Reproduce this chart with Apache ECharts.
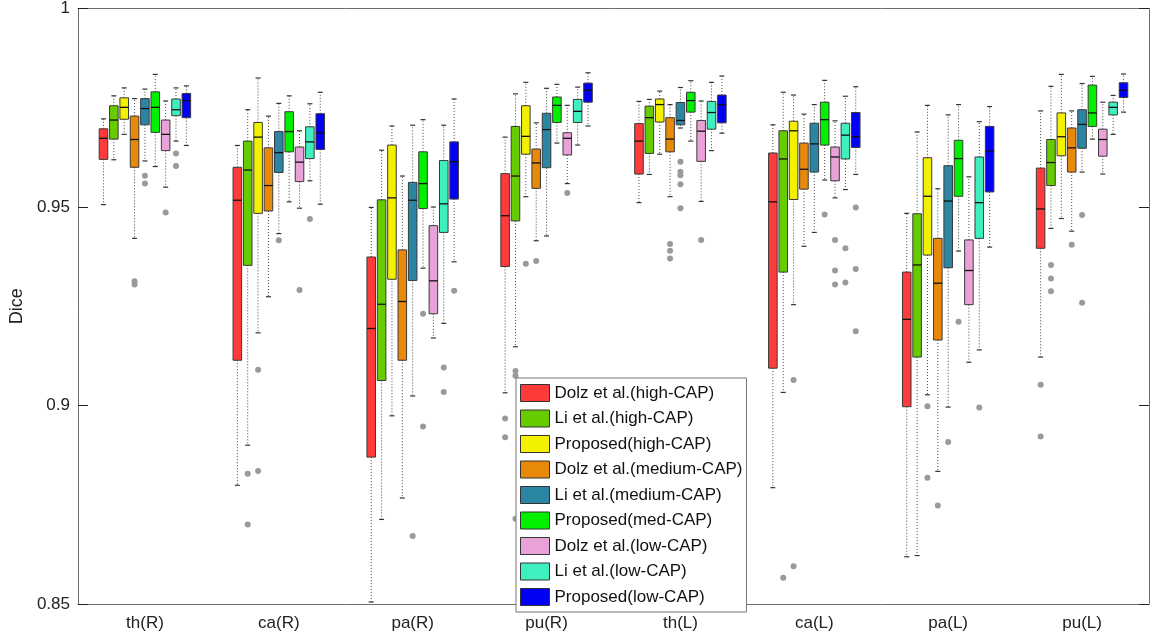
<!DOCTYPE html>
<html><head><meta charset="utf-8">
<script src="https://cdn.jsdelivr.net/npm/echarts@6/dist/echarts.min.js"></script>
<style>html,body{margin:0;padding:0;background:#fff}#c{width:1152px;height:638px}</style>
</head><body><div id="c"></div>
<script>
const categories = ['th(R)','ca(R)','pa(R)','pu(R)','th(L)','ca(L)','pa(L)','pu(L)'];
const methodNames = ['Dolz et al.(high-CAP)','Li et al.(high-CAP)','Proposed(high-CAP)','Dolz et al.(medium-CAP)','Li et al.(medium-CAP)','Proposed(med-CAP)','Dolz et al.(low-CAP)','Li et al.(low-CAP)','Proposed(low-CAP)'];
const methodColors = ['#FF3A3A','#66CC00','#F2F200','#E8890A','#2B86A3','#00F000','#E8A2D8','#3FEFC0','#0000F5'];

// boxes per organ: [lower whisker, q1, median, q3, upper whisker]
const dolzHigh = [[0.9506,0.9620,0.9673,0.9697,0.9722],[0.8799,0.9114,0.9517,0.9600,0.9655],[0.8505,0.8870,0.9194,0.9374,0.9499],[0.9032,0.9350,0.9478,0.9584,0.9676],[0.9511,0.9583,0.9666,0.9710,0.9766],[0.8793,0.9094,0.9513,0.9636,0.9707],[0.8619,0.8997,0.9217,0.9336,0.9484],[0.9122,0.9396,0.9495,0.9598,0.9742]];
const liHigh = [[0.9619,0.9671,0.9719,0.9755,0.9780],[0.8900,0.9353,0.9593,0.9666,0.9745],[0.8713,0.9063,0.9255,0.9518,0.9643],[0.9148,0.9465,0.9578,0.9703,0.9785],[0.9582,0.9635,0.9725,0.9754,0.9771],[0.9033,0.9336,0.9621,0.9692,0.9789],[0.8622,0.9122,0.9354,0.9483,0.9689],[0.9446,0.9554,0.9612,0.9670,0.9804]];
const propHigh = [[0.9683,0.9721,0.9751,0.9775,0.9800],[0.9183,0.9484,0.9676,0.9713,0.9825],[0.8974,0.9318,0.9523,0.9656,0.9704],[0.9526,0.9633,0.9678,0.9755,0.9814],[0.9633,0.9714,0.9758,0.9772,0.9792],[0.9254,0.9519,0.9692,0.9716,0.9782],[0.9027,0.9379,0.9527,0.9624,0.9756],[0.9471,0.9629,0.9677,0.9737,0.9834]];
const dolzMed = [[0.9421,0.9600,0.9670,0.9729,0.9773],[0.9274,0.9490,0.9554,0.9649,0.9729],[0.8767,0.9114,0.9262,0.9392,0.9578],[0.9415,0.9547,0.9611,0.9646,0.9712],[0.9526,0.9639,0.9671,0.9725,0.9758],[0.9401,0.9545,0.9595,0.9661,0.9734],[0.8834,0.9165,0.9308,0.9421,0.9546],[0.9439,0.9588,0.9649,0.9699,0.9742]];
const liMed = [[0.9616,0.9707,0.9748,0.9773,0.9797],[0.9433,0.9587,0.9637,0.9690,0.9761],[0.9024,0.9315,0.9517,0.9562,0.9706],[0.9427,0.9599,0.9695,0.9736,0.9799],[0.9699,0.9707,0.9718,0.9763,0.9801],[0.9436,0.9588,0.9659,0.9711,0.9758],[0.8996,0.9347,0.9515,0.9604,0.9732],[0.9588,0.9648,0.9708,0.9745,0.9811]];
const propMed = [[0.9602,0.9688,0.9751,0.9790,0.9834],[0.9513,0.9639,0.9690,0.9740,0.9780],[0.9346,0.9496,0.9559,0.9639,0.9720],[0.9661,0.9713,0.9756,0.9777,0.9809],[0.9666,0.9739,0.9768,0.9789,0.9818],[0.9568,0.9656,0.9720,0.9764,0.9819],[0.9389,0.9527,0.9622,0.9668,0.9758],[0.9671,0.9703,0.9737,0.9807,0.9829]];
const dolzLow = [[0.9550,0.9642,0.9683,0.9719,0.9767],[0.9497,0.9564,0.9613,0.9651,0.9692],[0.9170,0.9231,0.9314,0.9453,0.9500],[0.9559,0.9631,0.9673,0.9687,0.9756],[0.9514,0.9615,0.9691,0.9718,0.9767],[0.9523,0.9566,0.9626,0.9651,0.9717],[0.9109,0.9254,0.9340,0.9417,0.9576],[0.9583,0.9628,0.9670,0.9696,0.9764]];
const liLow = [[0.9666,0.9730,0.9745,0.9772,0.9800],[0.9566,0.9622,0.9664,0.9702,0.9760],[0.9207,0.9436,0.9508,0.9617,0.9706],[0.9656,0.9713,0.9741,0.9771,0.9802],[0.9642,0.9696,0.9738,0.9766,0.9814],[0.9544,0.9621,0.9681,0.9711,0.9779],[0.9140,0.9421,0.9511,0.9626,0.9715],[0.9683,0.9732,0.9751,0.9764,0.9781]];
const propLow = [[0.9655,0.9725,0.9768,0.9786,0.9805],[0.9507,0.9645,0.9687,0.9735,0.9789],[0.9362,0.9520,0.9614,0.9664,0.9772],[0.9704,0.9764,0.9794,0.9812,0.9838],[0.9686,0.9712,0.9758,0.9782,0.9830],[0.9582,0.9650,0.9677,0.9738,0.9803],[0.9399,0.9538,0.9641,0.9703,0.9753],[0.9739,0.9776,0.9794,0.9813,0.9835]];

// outliers: [organ index, value]
const dolzHighOut = [[3,0.8967],[3,0.8920],[7,0.9052],[7,0.8922]];
const liHighOut = [[1,0.8828],[1,0.8700],[3,0.9087],[3,0.9075],[3,0.8715],[5,0.8566],[7,0.9354],[7,0.9320],[7,0.9288]];
const propHighOut = [[1,0.9090],[1,0.8835],[3,0.9357],[5,0.9064],[5,0.8595],[6,0.8998],[6,0.8818]];
const dolzMedOut = [[0,0.9313],[0,0.9305],[3,0.9364],[4,0.9407],[4,0.9390],[4,0.9370],[6,0.8748],[7,0.9405]];
const liMedOut = [[0,0.9579],[0,0.9559],[1,0.9416],[2,0.8671],[4,0.9614],[4,0.9589],[4,0.9580],[4,0.9557],[4,0.9497],[6,0.8908],[7,0.9480],[7,0.9259]];
const propMedOut = [[2,0.9231],[2,0.8947],[5,0.9481],[6,0.9211]];
const dolzLowOut = [[0,0.9486],[1,0.9291],[3,0.9535],[4,0.9417],[5,0.9417],[5,0.9340],[5,0.9305]];
const liLowOut = [[0,0.9635],[0,0.9603],[1,0.9470],[2,0.9096],[2,0.9034],[5,0.9396],[5,0.9310],[6,0.8995]];
const propLowOut = [[2,0.9289],[5,0.9499],[5,0.9344],[5,0.9187]];

const boxSets = [dolzHigh, liHigh, propHigh, dolzMed, liMed, propMed, dolzLow, liLow, propLow];
const outSets = [dolzHighOut, liHighOut, propHighOut, dolzMedOut, liMedOut, propMedOut, dolzLowOut, liLowOut, propLowOut];

const FONT = 'Liberation Sans, Arial, Helvetica, sans-serif';
const AX = '#6e6e6e';

function offsetX(api, gi, k) {
  const band = api.size([1, 0])[0];
  return api.coord([gi, 0.9])[0] + (k - 4) * band * 0.0774;
}

function boxRender(k) {
  return function (params, api) {
    const gi = api.value(0);
    const band = api.size([1, 0])[0];
    const w = band * 0.064;
    const cx = offsetX(api, gi, k);
    const y = i => api.coord([gi, api.value(i)])[1];
    const yLo = y(1), yQ1 = y(2), yMed = y(3), yQ3 = y(4), yHi = y(5);
    const dash = {stroke: '#444', lineWidth: 1, lineDash: [1, 2]};
    const cap = {stroke: '#333', lineWidth: 1.2};
    return {type: 'group', children: [
      {type: 'line', shape: {x1: cx, y1: yQ3, x2: cx, y2: yHi}, style: dash},
      {type: 'line', shape: {x1: cx, y1: yQ1, x2: cx, y2: yLo}, style: dash},
      {type: 'line', shape: {x1: cx - 2.5, y1: yHi, x2: cx + 2.5, y2: yHi}, style: cap},
      {type: 'line', shape: {x1: cx - 2.5, y1: yLo, x2: cx + 2.5, y2: yLo}, style: cap},
      {type: 'rect', shape: {x: cx - w / 2, y: yQ3, width: w, height: yQ1 - yQ3}, style: {fill: methodColors[k], stroke: '#3a3a3a', lineWidth: 1}},
      {type: 'line', shape: {x1: cx - w / 2, y1: yMed, x2: cx + w / 2, y2: yMed}, style: {stroke: '#111', lineWidth: 1.3}}
    ]};
  };
}

function outRender(k) {
  return function (params, api) {
    const gi = api.value(0);
    const cx = offsetX(api, gi, k);
    const cy = api.coord([gi, api.value(1)])[1];
    return {type: 'circle', shape: {cx: cx, cy: cy, r: 3}, style: {fill: '#9a9a9a'}};
  };
}

const series = [];
boxSets.forEach((set, k) => {
  series.push({
    type: 'custom', name: methodNames[k], renderItem: boxRender(k),
    itemStyle: {color: methodColors[k]},
    data: set.map((b, i) => [i].concat(b)),
    encode: {x: 0, y: [1, 2, 3, 4, 5]}, z: 2
  });
});
outSets.forEach((set, k) => {
  series.push({
    type: 'custom', name: methodNames[k] + ' outliers', renderItem: outRender(k),
    itemStyle: {color: '#9a9a9a'},
    data: set.map(o => [o[0], o[1]]),
    encode: {x: 0, y: 1}, z: 3
  });
});

const chart = echarts.init(document.getElementById('c'));
chart.setOption({
  animation: false,
  backgroundColor: '#fff',
  grid: {left: 74, right: 3, top: 6, bottom: 34},
  xAxis: [
    {type: 'category', data: categories, boundaryGap: true, position: 'bottom',
     axisLine: {lineStyle: {color: AX}}, axisTick: {inside: true, alignWithLabel: true, length: 10, lineStyle: {color: '#222'}},
     axisLabel: {fontSize: 17, color: '#222', fontFamily: FONT, margin: 11}},
    {type: 'category', data: categories, boundaryGap: true, position: 'top',
     axisLine: {lineStyle: {color: AX}}, axisTick: {inside: true, alignWithLabel: true, length: 10, lineStyle: {color: '#222'}},
     axisLabel: {show: false}}
  ],
  yAxis: [
    {type: 'value', min: 0.85, max: 1, interval: 0.05, name: 'Dice', nameLocation: 'middle', nameGap: 46,
     nameTextStyle: {fontSize: 18, color: '#222', fontFamily: FONT},
     axisLine: {show: true, lineStyle: {color: AX}}, axisTick: {show: true, inside: true, length: 10, lineStyle: {color: '#222'}},
     splitLine: {show: false}, axisLabel: {fontSize: 17, color: '#222', fontFamily: FONT, margin: 8}},
    {type: 'value', min: 0.85, max: 1, interval: 0.05, position: 'right',
     axisLine: {show: true, lineStyle: {color: AX}}, axisTick: {show: true, inside: true, length: 10, lineStyle: {color: '#222'}},
     splitLine: {show: false}, axisLabel: {show: false}}
  ],
  legend: {
    orient: 'vertical', left: 516, top: 378, itemWidth: 29, itemHeight: 17, itemGap: 7.5, icon: 'rect',
    backgroundColor: '#fff', borderColor: '#777', borderWidth: 1, padding: [6, 4, 6, 4], selectedMode: false,
    textStyle: {fontSize: 17, color: '#111', fontFamily: FONT},
    itemStyle: {borderColor: '#333', borderWidth: 1},
    data: methodNames
  },
  series: series
});
</script></body></html>
